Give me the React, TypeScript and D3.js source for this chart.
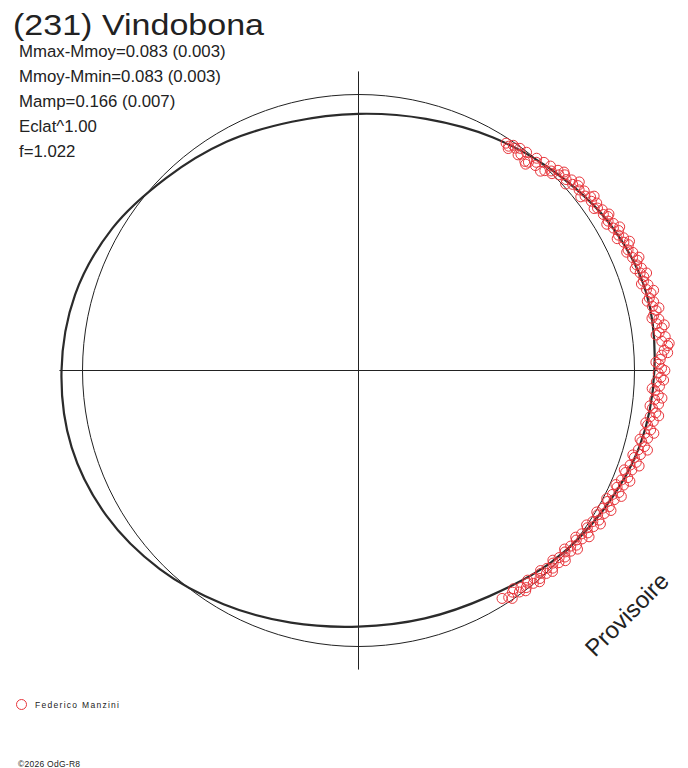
import React from 'react';
import * as d3 from 'd3';

// model lightcurve, rotation angle in degrees and relative flux (1 = mean circle)
const modelAngle = [0, 15, 30, 45, 60, 75, 90, 105, 120, 135, 150, 165, 180, 195, 210, 225, 240, 255, 270, 285, 300, 315, 330, 345];
const modelFlux = [1.072, 1.080, 1.055, 1.012, 0.975, 0.944, 0.930, 0.933, 0.957, 0.986, 1.030, 1.063, 1.076, 1.076, 1.054, 1.018, 0.978, 0.946, 0.928, 0.930, 0.945, 0.985, 1.020, 1.055];

// Federico Manzini observations
const obsAngle = [
  57.0, 56.2, 55.5, 54.8, 54.0, 53.1, 52.4, 51.5, 50.8, 50.0, 49.2, 48.3, 47.6, 46.8, 46.0, 45.1, 44.3, 43.5, 42.6, 41.8,
  41.0, 40.1, 39.3, 38.5, 37.6, 36.8, 36.0, 35.1, 34.2, 33.4, 32.5, 31.7, 30.9, 30.0, 29.2, 28.3, 27.5, 26.6, 25.8, 25.0,
  24.1, 23.3, 22.4, 21.6, 20.8, 19.9, 19.1, 18.2, 17.4, 16.5, 15.7, 14.8, 14.0, 13.1, 12.3, 11.4, 10.6, 9.7, 8.9, 8.0,
  7.2, 6.3, 5.5, 4.6, 3.8, 2.9, 2.1, 1.2, 0.4, -0.5, -1.3, -2.2, -3.0, -3.9, -4.7, -5.6, -6.4, -7.3, -8.1, -9.0,
  -9.8, -10.7, -11.5, -12.4, -13.2, -14.1, -14.9, -15.8, -16.6, -17.5, -18.3, -19.2, -20.0, -20.9, -21.7, -22.6, -23.4, -24.3, -25.1, -26.0,
  -26.8, -27.7, -28.5, -29.4, -30.2, -31.1, -31.9, -32.8, -33.6, -34.5, -35.3, -36.2, -37.0, -37.9, -38.7, -39.6, -40.4, -41.3, -42.1, -43.0,
  -43.8, -44.7, -45.5, -46.4, -47.2, -48.1, -48.9, -49.8, -50.6, -51.5, -52.3, -53.2, -54.0, -55.2, -56.5, -57.8,
  56.0, 53.5, 51.0, 49.5, 47.0, 45.5, 44.0, 42.0, 40.5, 38.0, 36.5, 34.5, 32.0, 30.5, 28.8, 27.0, 25.5, 23.8, 22.0, 20.2,
  18.7, 17.0, 15.2, 13.5, 11.8, 10.1, 8.5, 6.8, 5.0, 3.3, 1.6, 0.0, -1.8, -3.5, -5.2, -6.9, -8.6, -10.3, -12.0, -13.7,
  -15.4, -17.1, -18.8, -20.5, -22.2, -23.9, -25.6, -27.3, -29.0, -30.7, -32.4, -34.1, -35.8, -37.5, -39.2, -40.9, -42.6, -44.3, -46.0, -47.7,
  -49.4, -51.1, -52.8, -54.6, -56.0,
];
const obsFlux = [
  0.982, 0.978, 0.990, 0.986, 0.995, 0.980, 0.998, 0.968, 0.974, 1.004, 0.981, 1.010, 0.978, 1.016, 1.005, 1.024, 1.015, 1.030, 1.022, 1.036,
  1.028, 1.040, 1.033, 1.045, 1.036, 1.050, 1.043, 1.055, 1.047, 1.058, 1.052, 1.062, 1.054, 1.066, 1.058, 1.070, 1.062, 1.074, 1.068, 1.079,
  1.070, 1.082, 1.074, 1.086, 1.078, 1.090, 1.080, 1.088, 1.082, 1.094, 1.084, 1.096, 1.086, 1.098, 1.090, 1.100, 1.088, 1.104, 1.094, 1.110,
  1.098, 1.118, 1.104, 1.124, 1.110, 1.100, 1.094, 1.088, 1.098, 1.086, 1.096, 1.080, 1.092, 1.076, 1.090, 1.078, 1.094, 1.074, 1.088, 1.070,
  1.084, 1.066, 1.080, 1.062, 1.076, 1.058, 1.072, 1.054, 1.066, 1.048, 1.060, 1.042, 1.054, 1.036, 1.050, 1.032, 1.046, 1.028, 1.042, 1.024,
  1.038, 1.020, 1.034, 1.016, 1.030, 1.012, 1.026, 1.010, 1.022, 1.006, 1.018, 1.002, 1.014, 1.000, 1.012, 0.998, 1.010, 0.996, 1.008, 0.994,
  1.006, 0.992, 1.004, 0.990, 1.002, 0.988, 1.000, 0.986, 0.998, 0.984, 0.994, 0.982, 0.992, 0.978, 0.986, 0.976,
  0.970, 0.972, 0.962, 0.992, 0.990, 1.000, 1.035, 1.010, 1.052, 1.022, 1.062, 1.036, 1.070, 1.044, 1.080, 1.052, 1.088, 1.062, 1.096, 1.068,
  1.102, 1.072, 1.108, 1.076, 1.112, 1.080, 1.120, 1.086, 1.130, 1.122, 1.078, 1.110, 1.106, 1.066, 1.104, 1.064, 1.100, 1.058, 1.094, 1.050,
  1.086, 1.040, 1.074, 1.028, 1.062, 1.020, 1.056, 1.012, 1.046, 1.004, 1.038, 0.998, 1.030, 0.992, 1.024, 0.988, 1.018, 0.984, 1.012, 0.980,
  1.008, 0.976, 1.002, 0.970, 0.996,
];

const infoLines = ['Mmax-Mmoy=0.083 (0.003)', 'Mmoy-Mmin=0.083 (0.003)', 'Mamp=0.166 (0.007)', 'Eclat^1.00', 'f=1.022'];

const W = 688;
const H = 768;
const cx = 358.5;
const cy = 370.5;
const red = '#e8363c';
const ink = '#222';

export default function App() {
  const r = d3.scaleLinear().domain([0, 1]).range([0, 276]);
  const ang = d3.scaleLinear().domain([0, 360]).range([0, 2 * Math.PI]);

  // lineRadial measures from 12 o'clock clockwise, data angles are counter-clockwise from +x
  const radial = d3
    .lineRadial<number>()
    .angle((d, i) => Math.PI / 2 - ang(modelAngle[i]))
    .radius((d) => r(d))
    .curve(d3.curveCardinalClosed);

  const axisR = r(d3.max(modelFlux) as number) + 1;
  const font = 'Liberation Sans, Arial, sans-serif';

  return (
    <svg width={W} height={H} style={{ position: 'absolute', left: 0, top: 0, background: '#fff' }} fontFamily={font}>
      <text x={13} y={35} fontSize={30} fill={ink} textLength={251} lengthAdjust="spacingAndGlyphs">(231) Vindobona</text>
      {infoLines.map((t, i) => (
        <text key={t} x={19} y={57 + i * 25} fontSize={16.8} fill={ink}>{t}</text>
      ))}

      <g transform={`translate(${cx},${cy})`}>
        <line x1={-axisR} x2={axisR} y1={0} y2={0} stroke={ink} strokeWidth={1} />
        <line x1={0} x2={0} y1={-axisR} y2={axisR} stroke={ink} strokeWidth={1} />
        <circle r={r(1)} fill="none" stroke={ink} strokeWidth={1} />
        <path d={radial(modelFlux) || ''} fill="none" stroke="#2b2b2b" strokeWidth={2.2} />
        {obsAngle.map((a, i) => {
          const t = ang(a);
          return (
            <circle
              key={i}
              cx={r(obsFlux[i]) * Math.cos(t)}
              cy={-r(obsFlux[i]) * Math.sin(t)}
              r={5}
              fill="none"
              stroke={red}
              strokeWidth={1}
            />
          );
        })}
      </g>

      <text x={595} y={658} fontSize={24} fill={ink} transform="rotate(-45 595 658)">Provisoire</text>

      <circle cx={21.5} cy={704.5} r={5} fill="none" stroke={red} strokeWidth={1} />
      <text x={35} y={708} fontSize={8.5} fill={ink} textLength={84} lengthAdjust="spacing">Federico Manzini</text>
      <text x={18} y={767} fontSize={8.5} fill={ink} textLength={62} lengthAdjust="spacing">©2026 OdG-R8</text>
    </svg>
  );
}
